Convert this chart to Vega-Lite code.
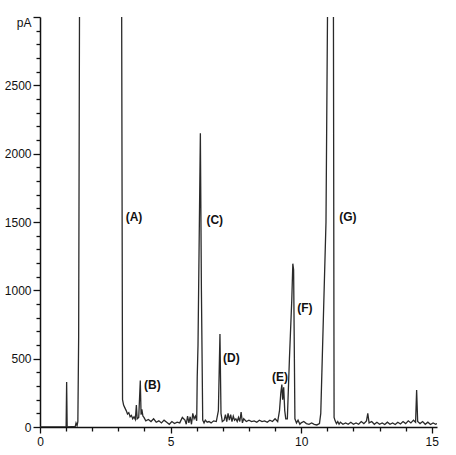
{
  "$schema": "https://vega.github.io/schema/vega-lite/v6.json",
  "autosize": "none",
  "padding": {"left": 40, "top": 17, "right": 19, "bottom": 28},
  "width": 397,
  "height": 410,
  "background": "white",
  "config": {"view": {"stroke": null}, "font": "Liberation Sans", "axis": {"labelOverlap": false, "labelBound": false}},
  "datasets": {
    "trace": [
      {"t": 0, "v": 0}, {"t": 0.5, "v": 0}, {"t": 1.0, "v": 0}, {"t": 1.02, "v": 330}, {"t": 1.04, "v": 0},
      {"t": 1.2, "v": 3}, {"t": 1.35, "v": 5}, {"t": 1.38, "v": 30}, {"t": 1.42, "v": 10}, {"t": 1.45, "v": 40},
      {"t": 1.48, "v": 660}, {"t": 1.52, "v": 3600}, {"t": 2.3, "v": 4000}, {"t": 3.12, "v": 3600},
      {"t": 3.16, "v": 200}, {"t": 3.2, "v": 160}, {"t": 3.25, "v": 140}, {"t": 3.3, "v": 120}, {"t": 3.35, "v": 95},
      {"t": 3.4, "v": 105}, {"t": 3.45, "v": 75}, {"t": 3.5, "v": 85}, {"t": 3.55, "v": 60}, {"t": 3.6, "v": 75},
      {"t": 3.65, "v": 55}, {"t": 3.69, "v": 160}, {"t": 3.72, "v": 60}, {"t": 3.78, "v": 70}, {"t": 3.84, "v": 340},
      {"t": 3.87, "v": 90}, {"t": 3.9, "v": 130}, {"t": 3.94, "v": 80}, {"t": 3.98, "v": 70}, {"t": 4.05, "v": 45},
      {"t": 4.15, "v": 55}, {"t": 4.25, "v": 40}, {"t": 4.35, "v": 60}, {"t": 4.45, "v": 35}, {"t": 4.55, "v": 45},
      {"t": 4.65, "v": 30}, {"t": 4.75, "v": 50}, {"t": 4.85, "v": 35}, {"t": 4.95, "v": 20}, {"t": 5.05, "v": 40},
      {"t": 5.15, "v": 25}, {"t": 5.25, "v": 35}, {"t": 5.35, "v": 30}, {"t": 5.45, "v": 70}, {"t": 5.55, "v": 50},
      {"t": 5.6, "v": 20}, {"t": 5.65, "v": 80}, {"t": 5.7, "v": 30}, {"t": 5.75, "v": 75}, {"t": 5.8, "v": 20},
      {"t": 5.85, "v": 100}, {"t": 5.9, "v": 60}, {"t": 5.95, "v": 80}, {"t": 6.0, "v": 45}, {"t": 6.02, "v": 370},
      {"t": 6.05, "v": 600}, {"t": 6.14, "v": 2150}, {"t": 6.18, "v": 1000}, {"t": 6.23, "v": 50}, {"t": 6.28, "v": 30},
      {"t": 6.33, "v": 50}, {"t": 6.4, "v": 35}, {"t": 6.47, "v": 40}, {"t": 6.55, "v": 30}, {"t": 6.65, "v": 45},
      {"t": 6.75, "v": 40}, {"t": 6.83, "v": 120}, {"t": 6.89, "v": 680}, {"t": 6.93, "v": 100}, {"t": 6.98, "v": 40},
      {"t": 7.05, "v": 50}, {"t": 7.1, "v": 90}, {"t": 7.15, "v": 40}, {"t": 7.2, "v": 100}, {"t": 7.25, "v": 50},
      {"t": 7.3, "v": 90}, {"t": 7.35, "v": 40}, {"t": 7.4, "v": 80}, {"t": 7.45, "v": 50}, {"t": 7.5, "v": 60},
      {"t": 7.55, "v": 40}, {"t": 7.6, "v": 70}, {"t": 7.65, "v": 40}, {"t": 7.7, "v": 110}, {"t": 7.75, "v": 30},
      {"t": 7.8, "v": 60}, {"t": 7.9, "v": 40}, {"t": 8.0, "v": 50}, {"t": 8.1, "v": 40}, {"t": 8.2, "v": 45},
      {"t": 8.3, "v": 35}, {"t": 8.4, "v": 50}, {"t": 8.5, "v": 40}, {"t": 8.6, "v": 45}, {"t": 8.7, "v": 35},
      {"t": 8.8, "v": 50}, {"t": 8.9, "v": 40}, {"t": 9.0, "v": 60}, {"t": 9.1, "v": 40}, {"t": 9.17, "v": 120},
      {"t": 9.22, "v": 250}, {"t": 9.26, "v": 310}, {"t": 9.29, "v": 200}, {"t": 9.33, "v": 290}, {"t": 9.37, "v": 120},
      {"t": 9.41, "v": 60}, {"t": 9.47, "v": 60}, {"t": 9.55, "v": 500}, {"t": 9.64, "v": 930}, {"t": 9.68, "v": 1195},
      {"t": 9.71, "v": 1150}, {"t": 9.76, "v": 60}, {"t": 9.82, "v": 30}, {"t": 9.88, "v": 50}, {"t": 9.95, "v": 20},
      {"t": 10.0, "v": 30}, {"t": 10.1, "v": 40}, {"t": 10.2, "v": 25}, {"t": 10.3, "v": 20}, {"t": 10.4, "v": 30},
      {"t": 10.5, "v": 20}, {"t": 10.6, "v": 15}, {"t": 10.7, "v": 25}, {"t": 10.75, "v": 100}, {"t": 10.95, "v": 1500},
      {"t": 11.03, "v": 3600}, {"t": 11.23, "v": 3600}, {"t": 11.26, "v": 70}, {"t": 11.3, "v": 45}, {"t": 11.35, "v": 25},
      {"t": 11.4, "v": 40}, {"t": 11.45, "v": 20}, {"t": 11.5, "v": 35}, {"t": 11.6, "v": 20}, {"t": 11.7, "v": 30},
      {"t": 11.8, "v": 20}, {"t": 11.9, "v": 35}, {"t": 12.0, "v": 20}, {"t": 12.1, "v": 30}, {"t": 12.2, "v": 20},
      {"t": 12.3, "v": 40}, {"t": 12.4, "v": 25}, {"t": 12.5, "v": 45}, {"t": 12.55, "v": 100}, {"t": 12.6, "v": 30},
      {"t": 12.7, "v": 40}, {"t": 12.8, "v": 20}, {"t": 12.9, "v": 35}, {"t": 13.0, "v": 20}, {"t": 13.1, "v": 30},
      {"t": 13.2, "v": 18}, {"t": 13.3, "v": 35}, {"t": 13.4, "v": 20}, {"t": 13.5, "v": 30}, {"t": 13.6, "v": 18},
      {"t": 13.7, "v": 35}, {"t": 13.8, "v": 22}, {"t": 13.9, "v": 40}, {"t": 14.0, "v": 25}, {"t": 14.1, "v": 45},
      {"t": 14.2, "v": 30}, {"t": 14.3, "v": 50}, {"t": 14.38, "v": 35}, {"t": 14.42, "v": 270}, {"t": 14.46, "v": 40},
      {"t": 14.55, "v": 25}, {"t": 14.65, "v": 40}, {"t": 14.75, "v": 20}, {"t": 14.85, "v": 35}, {"t": 14.95, "v": 18},
      {"t": 15.05, "v": 30}, {"t": 15.15, "v": 20}, {"t": 15.2, "v": 25}
    ],
    "labels": [
      {"t": 3.6, "v": 1540, "label": "(A)"},
      {"t": 4.3, "v": 307, "label": "(B)"},
      {"t": 6.69, "v": 1518, "label": "(C)"},
      {"t": 7.33, "v": 505, "label": "(D)"},
      {"t": 9.19, "v": 368, "label": "(E)"},
      {"t": 10.14, "v": 873, "label": "(F)"},
      {"t": 11.79, "v": 1538, "label": "(G)"}
    ]
  },
  "encoding": {
    "x": {
      "field": "t", "type": "quantitative",
      "scale": {"domain": [0, 15.2], "nice": false, "zero": false},
      "axis": {
        "title": null, "grid": false, "labelOverlap": false,
        "values": [0, 1, 2, 3, 4, 5, 6, 7, 8, 9, 10, 11, 12, 13, 14, 15],
        "labelExpr": "datum.value % 5 === 0 ? datum.label : ''",
        "tickSize": {"condition": {"test": "datum.value % 5 === 0", "value": 6}, "value": 4},
        "domainColor": "#111111", "domainWidth": 1.5, "tickColor": "#111111", "tickWidth": 1.3,
        "labelFontSize": 12, "labelColor": "#111111", "labelPadding": 3, "labelFlush": false
      }
    },
    "y": {
      "field": "v", "type": "quantitative",
      "scale": {"domain": [0, 3000], "nice": false},
      "axis": {
        "title": null, "grid": false, "labelOverlap": false,
        "values": [0, 100, 200, 300, 400, 500, 600, 700, 800, 900, 1000, 1100, 1200, 1300, 1400, 1500, 1600, 1700, 1800, 1900, 2000, 2100, 2200, 2300, 2400, 2500, 2600, 2700, 2800, 2900, 3000],
        "labelExpr": "datum.value === 3000 ? 'pA' : (datum.value % 500 === 0 ? datum.label : '')",
        "format": "d",
        "tickSize": {"condition": {"test": "datum.value % 500 === 0", "value": 7}, "value": 4},
        "labelBaseline": {"condition": {"test": "datum.value === 3000", "value": "top"}, "value": "middle"},
        "domainColor": "#111111", "domainWidth": 1.5, "tickColor": "#111111", "tickWidth": 1.3,
        "labelFontSize": 12, "labelColor": "#111111", "labelPadding": 2, "labelFlush": false
      }
    }
  },
  "layer": [
    {
      "data": {"name": "trace"},
      "mark": {"type": "line", "clip": true, "color": "#2a2a2a", "strokeWidth": 1.3}
    },
    {
      "data": {"name": "labels"},
      "mark": {"type": "text", "fontSize": 12, "fontWeight": "bold", "color": "#111111", "align": "center", "baseline": "middle"},
      "encoding": {
        "text": {"field": "label"}
      }
    }
  ]
}
